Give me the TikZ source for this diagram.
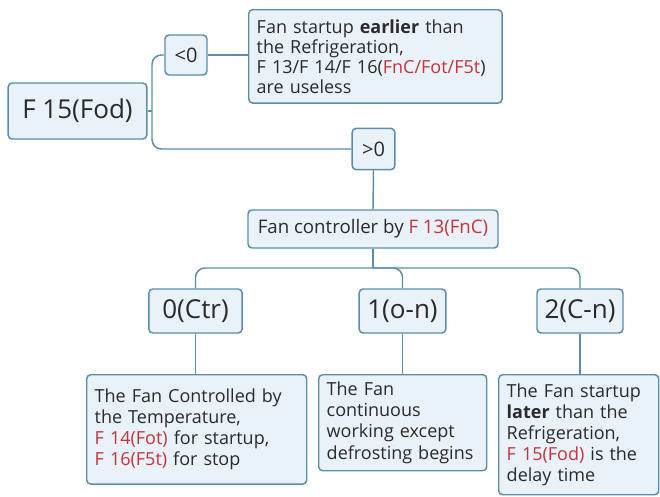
\documentclass[tikz,border=0pt]{standalone}
\usepackage{fontspec}
\setmainfont{Open Sans}
\usepackage{tikz}
\usetikzlibrary{calc}
\definecolor{boxline}{HTML}{5B8DA8}
\definecolor{boxfill}{HTML}{EAF2F9}
\definecolor{segred}{HTML}{C8323A}
\definecolor{ink}{HTML}{2A2A2A}
\def\code#1{{\color{segred}#1}}
\tikzset{
	box/.style={draw=boxline, fill=boxfill, line width=1.1pt, rounded corners=3pt, text=ink, inner sep=0pt, align=center},
	note/.style={box, align=left, anchor=north west, inner xsep=6pt, inner ysep=3pt, font=\fontsize{13.5}{15.8}\selectfont},
	link/.style={draw=boxline, line width=1.1pt, rounded corners=7pt}
}

\begin{document}
\begin{tikzpicture}[x=0.75pt, y=-0.75pt]
			%%%%% START %%%%%
			\useasboundingbox (0, 0) rectangle (660, 496);
			
			% root and first split
			\node[box, minimum width=104pt, minimum height=42pt, font=\fontsize{19.5}{24}\selectfont] (fod) at (77.5, 111) {F 15(Fod)};
			\node[box, minimum width=31.5pt, minimum height=30pt, font=\fontsize{15}{18}\selectfont] (neg) at (186, 55) {<0};
			\node[box, minimum width=32pt, minimum height=31pt, font=\fontsize{15}{18}\selectfont] (pos) at (373.5, 149) {>0};
			\node[note, text width=178pt, minimum height=70pt, font=\fontsize{13.5}{15}\selectfont] (early) at (248, 9) {Fan startup \textbf{earlier} than\\the Refrigeration,\\F 13/F 14/F 16(\code{FnC/Fot/F5t})\\are useless};
			
			\coordinate (trunk) at (152, 111);
			\draw[link] (fod.east) -- (trunk);
			\draw[link] (trunk) |- (neg.west);
			\draw[link] (trunk) |- (pos.west);
			\draw[link] (neg.east) -- (neg.east -| early.west);
			
			% fan controller
			\node[box, minimum width=187.5pt, minimum height=28.5pt, font=\fontsize{14}{16}\selectfont] (ctrl) at (373, 229) {Fan controller by \code{F 13(FnC)}};
			\draw[link] (pos.south) -- (ctrl.north);
			
			\node[box, minimum width=70pt, minimum height=33pt, font=\fontsize{19.5}{22}\selectfont] (ctr) at (195.5, 311) {0(Ctr)};
			\node[box, minimum width=65pt, minimum height=33pt, font=\fontsize{19.5}{22}\selectfont] (on) at (402.5, 311) {1(o-n)};
			\node[box, minimum width=64.5pt, minimum height=33pt, font=\fontsize{19.5}{22}\selectfont] (cn) at (580, 311) {2(C-n)};
			
			\coordinate (bus) at (373, 268);
			\draw[link] (ctrl.south) -- (bus);
			\draw[link] (bus) -| (ctr.north);
			\draw[link] (bus) -| (on.north);
			\draw[link] (bus) -| (cn.north);
			
			% descriptions
			\node[note, text width=153pt, minimum height=82pt] (tmp) at (86, 374) {The Fan Controlled by\\the Temperature,\\\code{F 14(Fot)} for startup,\\\code{F 16(F5t)} for stop};
			\node[note, text width=114pt, minimum height=72pt] (cont) at (318, 374) {The Fan\\continuous\\working except\\defrosting begins};
			\node[note, text width=108pt, minimum height=90pt] (late) at (498, 374) {The Fan startup\\\textbf{later} than the\\Refrigeration,\\\code{F 15(Fod)} is the\\delay time};
			
			\draw[link] (ctr.south) -- (ctr.south |- tmp.north);
			\draw[link] (on.south) -- (on.south |- cont.north);
			\draw[link] (cn.south) -- (cn.south |- late.north);
			
			%%%%% END %%%%%
		\end{tikzpicture}
\end{document}
